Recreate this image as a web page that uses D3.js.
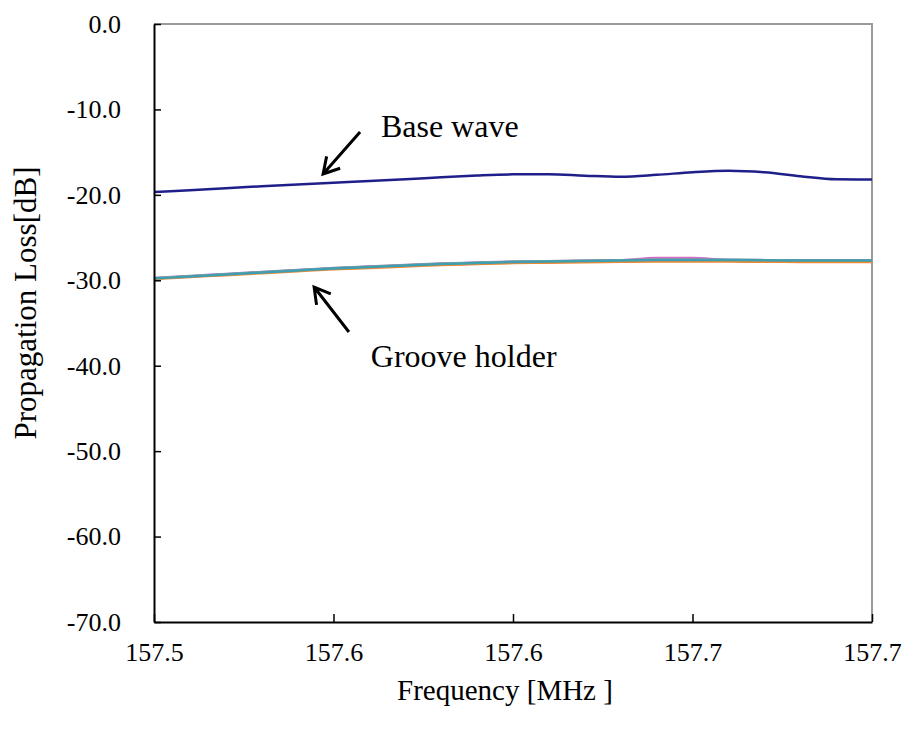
<!DOCTYPE html>
<html>
<head>
<meta charset="utf-8">
<script src="https://cdn.jsdelivr.net/npm/d3@7"></script>
<style>
body { margin: 0; background: #fff; }
svg, svg text { font-family: 'Liberation Serif' !important; }
</style>
</head>
<body>
<script>
//frequency samples [MHz]
var freq = [157.50, 157.51, 157.52, 157.53, 157.54, 157.55, 157.56, 157.57, 157.58, 157.59, 157.60,
            157.61, 157.62, 157.63, 157.64, 157.65, 157.66, 157.67, 157.68, 157.69, 157.70];

//base wave [dB]
var baseWave = [-19.67, -19.45, -19.22, -19.00, -18.78, -18.57, -18.38, -18.18, -17.95, -17.74, -17.60,
                -17.58, -17.75, -17.88, -17.66, -17.35, -17.18, -17.36, -17.82, -18.18, -18.20];

//groove holder traces [dB]
var groovePink = [-29.78, -29.55, -29.31, -29.08, -28.84, -28.61, -28.43, -28.26, -28.08, -27.97, -27.85,
                  -27.79, -27.73, -27.67, -27.40, -27.40, -27.64, -27.66, -27.68, -27.68, -27.68];
var grooveLavender = [-29.72, -29.50, -29.26, -29.03, -28.80, -28.57, -28.39, -28.22, -28.04, -27.93, -27.82,
                      -27.76, -27.70, -27.64, -27.60, -27.60, -27.61, -27.64, -27.66, -27.66, -27.66];
var grooveGray = [-29.76, -29.53, -29.30, -29.06, -28.83, -28.60, -28.42, -28.25, -28.07, -27.96, -27.84,
                  -27.78, -27.72, -27.66, -27.61, -27.61, -27.62, -27.65, -27.67, -27.67, -27.67];
var grooveOrange = [-29.85, -29.62, -29.40, -29.17, -28.94, -28.72, -28.55, -28.38, -28.21, -28.10, -27.99,
                    -27.94, -27.89, -27.84, -27.80, -27.80, -27.81, -27.83, -27.85, -27.86, -27.86];
var grooveTeal = [-29.79, -29.56, -29.32, -29.09, -28.85, -28.62, -28.44, -28.27, -28.09, -27.98, -27.86,
                  -27.80, -27.74, -27.68, -27.63, -27.63, -27.63, -27.66, -27.68, -27.68, -27.68];

//axis ticks
var xTicks = [157.5, 157.55, 157.6, 157.65, 157.7];
var xTickLabels = ["157.5", "157.6", "157.6", "157.7", "157.7"];
var yTicks = [0, -10, -20, -30, -40, -50, -60, -70];
var yTickLabels = ["0.0", "-10.0", "-20.0", "-30.0", "-40.0", "-50.0", "-60.0", "-70.0"];

//series drawn bottom to top
var series = [
    {name: "pink", values: groovePink, color: "#d46ac4"},
    {name: "lavender", values: grooveLavender, color: "#9a86bd"},
    {name: "gray", values: grooveGray, color: "#a0a0a0"},
    {name: "orange", values: grooveOrange, color: "#ee8a35"},
    {name: "teal", values: grooveTeal, color: "#3e9fb0"},
    {name: "base", values: baseWave, color: "#1f1f8a"}
];

//annotations in data units
var notes = [
    {label: "Base wave", tail: [157.5574, -12.64], tip: [157.5471, -17.56], text: [157.5632, -13.23]},
    {label: "Groove holder", tail: [157.5543, -36.05], tip: [157.5446, -30.79], text: [157.5604, -40.15]}
];

var width = 904, height = 736;
var margin = {top: 24, right: 32, bottom: 114, left: 154};

var svg = d3.select("body").append("svg")
    .attr("width", width)
    .attr("height", height)
    .style("font-family", "'Liberation Serif'");

var x = d3.scaleLinear()
    .domain([157.5, 157.7])
    .range([margin.left, width - margin.right]);

var y = d3.scaleLinear()
    .domain([-70, 0])
    .range([height - margin.bottom, margin.top]);

//frame: top and right in gray
svg.append("path")
    .attr("d", "M" + x.range()[0] + "," + y(0) + "H" + x.range()[1] + "V" + y(-70))
    .attr("fill", "none")
    .attr("stroke", "#9a9a9a")
    .attr("stroke-width", 2);

//lines
var line = d3.line()
    .x(function(d, i){ return x(freq[i]); })
    .y(function(d){ return y(d); })
    .curve(d3.curveMonotoneX);

svg.selectAll(".series")
    .data(series)
    .enter()
    .append("path")
    .attr("class", "series")
    .attr("d", function(d){ return line(d.values); })
    .attr("fill", "none")
    .attr("stroke", function(d){ return d.color; })
    .attr("stroke-width", 2.5);

//y axis
var yAxis = d3.axisLeft(y)
    .tickValues(yTicks)
    .tickFormat(function(d, i){ return yTickLabels[i]; })
    .tickSizeInner(-7)
    .tickSizeOuter(0)
    .tickPadding(33);

var gy = svg.append("g")
    .attr("transform", "translate(" + margin.left + ",0)")
    .call(yAxis);

//x axis
var xAxis = d3.axisBottom(x)
    .tickValues(xTicks)
    .tickFormat(function(d, i){ return xTickLabels[i]; })
    .tickSizeInner(-8)
    .tickSizeOuter(0)
    .tickPadding(21);

var gx = svg.append("g")
    .attr("transform", "translate(0," + y(-70) + ")")
    .call(xAxis);

[gx, gy].forEach(function(g){
    g.attr("font-family", null).attr("font-size", 26);
    g.select(".domain").attr("stroke", "#000").attr("stroke-width", 2);
    g.selectAll(".tick line").attr("stroke", "#000").attr("stroke-width", 1.5);
    g.selectAll(".tick text")
        .attr("font-size", 26)
        .style("font-family", "'Liberation Serif'")
        .attr("fill", "#000");
});

//axis titles
svg.append("text")
    .attr("x", 505)
    .attr("y", 700)
    .attr("text-anchor", "middle")
    .attr("font-size", 29)
    .style("font-family", "'Liberation Serif'")
    .text("Frequency [MHz ]");

svg.append("text")
    .attr("transform", "translate(36,303) rotate(-90)")
    .attr("text-anchor", "middle")
    .attr("font-size", 31)
    .style("font-family", "'Liberation Serif'")
    .text("Propagation Loss[dB]");

//annotations with open arrow heads
notes.forEach(function(n){
    var x0 = x(n.tail[0]), y0 = y(n.tail[1]),
        x1 = x(n.tip[0]), y1 = y(n.tip[1]);
    var ang = Math.atan2(y1 - y0, x1 - x0),
        len = 18, spread = Math.PI / 6;
    var a1 = [x1 - len * Math.cos(ang - spread), y1 - len * Math.sin(ang - spread)],
        a2 = [x1 - len * Math.cos(ang + spread), y1 - len * Math.sin(ang + spread)];

    svg.append("path")
        .attr("d", "M" + x0 + "," + y0 + "L" + x1 + "," + y1 +
                   "M" + a1[0] + "," + a1[1] + "L" + x1 + "," + y1 + "L" + a2[0] + "," + a2[1])
        .attr("fill", "none")
        .attr("stroke", "#000")
        .attr("stroke-width", 3);

    svg.append("text")
        .attr("x", x(n.text[0]))
        .attr("y", y(n.text[1]))
        .attr("font-size", 32)
        .style("font-family", "'Liberation Serif'")
        .text(n.label);
});
</script>
</body>
</html>
